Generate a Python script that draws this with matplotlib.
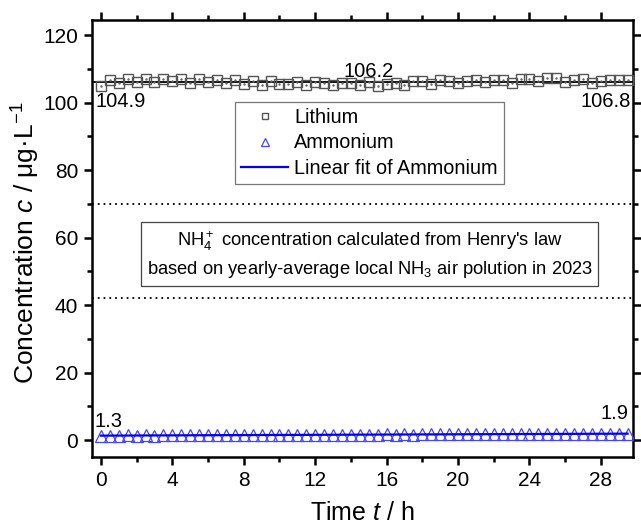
import numpy as np
import matplotlib
matplotlib.use("Agg")
import matplotlib.pyplot as plt
from matplotlib.ticker import MultipleLocator

plt.rcParams['font.family'] = ['Liberation Sans', 'DejaVu Sans']
plt.rcParams['mathtext.fontset'] = 'custom'
plt.rcParams['mathtext.rm'] = 'Liberation Sans'
plt.rcParams['mathtext.it'] = 'Liberation Sans:italic'
plt.rcParams['mathtext.bf'] = 'Liberation Sans:bold'

# ---- data ----
time_h = np.arange(0, 30, 0.5)
lithium = [104.9, 106.6, 105.9, 106.9, 106.2, 107.1, 106.0, 107.0, 106.3, 106.9,
           105.8, 107.0, 106.2, 106.7, 105.7, 106.6, 105.6, 106.3, 105.3, 106.4,
           105.6, 105.4, 106.2, 105.3, 106.1, 105.7, 105.3, 105.7, 105.9, 105.2,
           106.2, 105.0, 105.5, 105.9, 105.3, 106.3, 106.3, 105.6, 106.6, 106.5,
           105.8, 106.3, 106.7, 106.0, 106.8, 106.7, 105.9, 106.9, 107.1, 106.3,
           107.2, 107.3, 106.2, 106.8, 107.0, 105.7, 106.5, 106.6, 106.6, 106.8]
ammonium = [1.3, 1.35, 1.3, 1.4, 1.35, 1.4, 1.35, 1.45, 1.4, 1.45,
            1.4, 1.45, 1.5, 1.45, 1.5, 1.5, 1.45, 1.55, 1.5, 1.55,
            1.5, 1.55, 1.6, 1.55, 1.6, 1.55, 1.6, 1.65, 1.6, 1.65,
            1.6, 1.65, 1.7, 1.65, 1.7, 1.65, 1.7, 1.75, 1.7, 1.75,
            1.7, 1.75, 1.8, 1.75, 1.8, 1.75, 1.8, 1.85, 1.8, 1.85,
            1.8, 1.85, 1.9, 1.85, 1.9, 1.85, 1.9, 1.9, 1.85, 1.9]
henry_band = [42, 70]
lithium_labels = [(0, '104.9'), (15, '106.2'), (29.5, '106.8')]
ammonium_labels = [(0, '1.3'), (29.5, '1.9')]
lithium_level = 106.2

fig = plt.figure(figsize=(6.41, 5.27), dpi=100)
ax = fig.add_axes([0.1435, 0.1328, 0.8440, 0.8292])

# lithium mean line
ax.axhline(lithium_level, color='black', lw=1.3, zorder=2)
# lithium squares
ax.plot(time_h, lithium, ls='none', marker='s', ms=7.5, mfc='none', mec='#555555',
        mew=1.0, label='Lithium', zorder=3)
ax.plot(time_h, lithium, ls='none', marker='.', ms=1.5, color='#666666', zorder=3)

# ammonium
ax.plot(time_h, ammonium, ls='none', marker='^', ms=8.5, mfc='none', mec='#4444ff',
        mew=0.9, label='Ammonium', zorder=3)
coef = np.polyfit(time_h, ammonium, 1)
ax.plot(time_h, np.polyval(coef, time_h), color='#0000ee', lw=1.6,
        label='Linear fit of Ammonium', zorder=4)

# Henry's law band
for yv in henry_band:
    ax.axhline(yv, color='black', ls=(0, (1, 2.2)), lw=1.3, zorder=1)
ax.text(15.05, np.mean(henry_band) - 1.0,
        "NH$_4^+$ concentration calculated from Henry's law\n"
        "based on yearly-average local NH$_3$ air polution in 2023",
        ha='center', va='center', fontsize=13.2, linespacing=1.45,
        bbox=dict(boxstyle='square,pad=0.3', fc='white', ec='#444444', lw=0.9))

# value labels
ax.text(-0.3, 100.5, lithium_labels[0][1], ha='left', va='center', fontsize=14.5)
ax.text(lithium_labels[1][0], 109.3, lithium_labels[1][1], ha='center', va='center', fontsize=14.5)
ax.text(29.7, 100.5, lithium_labels[2][1], ha='right', va='center', fontsize=14.5)
ax.text(-0.35, 5.6, ammonium_labels[0][1], ha='left', va='center', fontsize=14.5)
ax.text(29.55, 8.0, ammonium_labels[1][1], ha='right', va='center', fontsize=14.5)

ax.set_xlim(-0.5, 29.8)
ax.set_ylim(-5, 124.5)
ax.xaxis.set_major_locator(MultipleLocator(4))
ax.xaxis.set_minor_locator(MultipleLocator(2))
ax.yaxis.set_major_locator(MultipleLocator(20))
ax.yaxis.set_minor_locator(MultipleLocator(10))
ax.tick_params(which='both', direction='out', top=True, right=True,
               labeltop=False, labelright=False, width=1.8, labelsize=15)
ax.tick_params(which='major', length=6, pad=4)
ax.tick_params(which='minor', length=3.5)
for s in ax.spines.values():
    s.set_linewidth(1.8)

ax.set_xlabel('Time $t$ / h', fontsize=18, labelpad=8)
ax.set_ylabel('Concentration $c$ / μg·L$^{-1}$', fontsize=19)
ax.yaxis.set_label_coords(-0.092, 0.49)

leg = ax.legend(loc='upper left', bbox_to_anchor=(0.264, 0.812), fontsize=14.3,
                frameon=True, fancybox=False, edgecolor='#777777', framealpha=1,
                markerscale=0.6, handlelength=2.4, handletextpad=0.3,
                labelspacing=0.32, borderpad=0.3, borderaxespad=0)
leg.get_frame().set_linewidth(0.9)

fig.savefig('out.png', dpi=100)
